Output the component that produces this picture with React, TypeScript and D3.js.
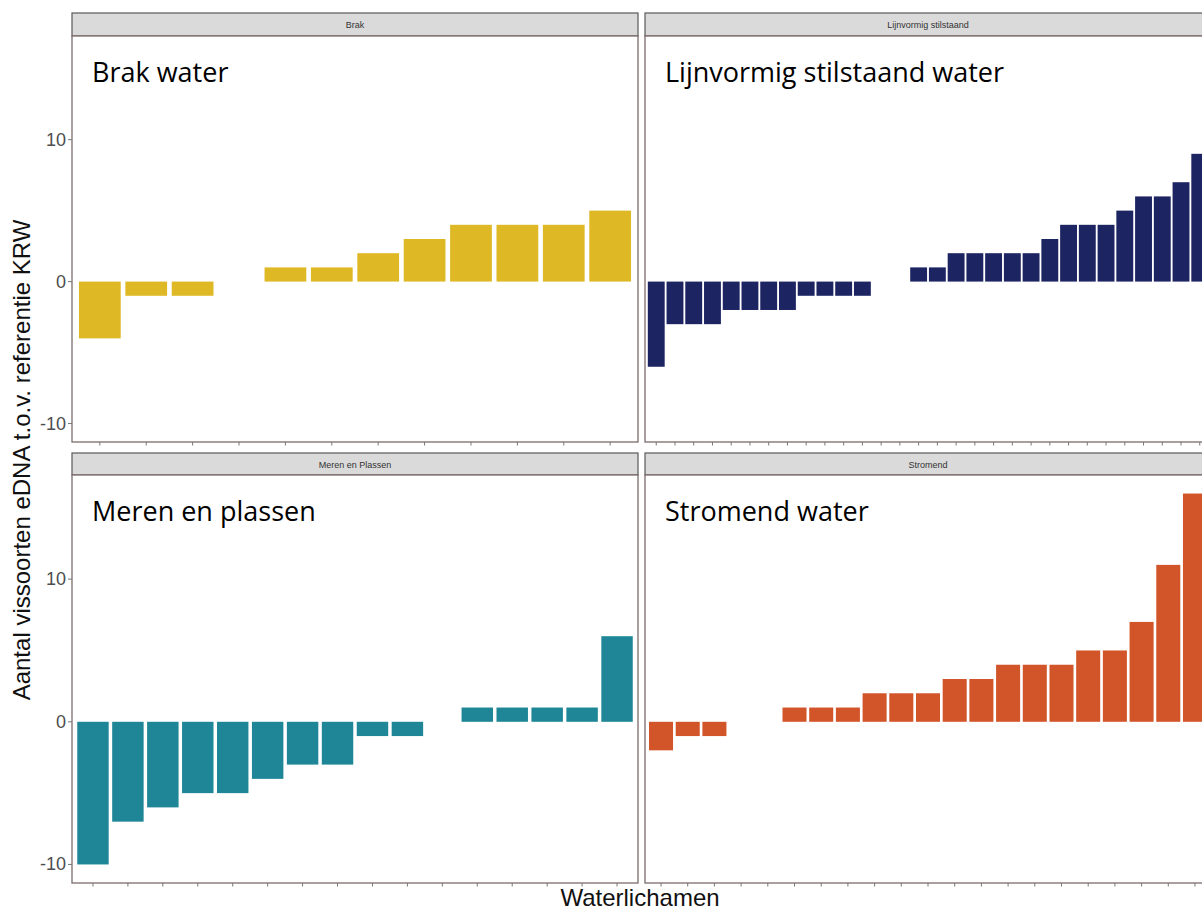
import React from "react";
import * as d3 from "d3";

// Difference in number of fish species (eDNA vs. KRW reference) per water body, sorted per water type
const brakValues = [-4, -1, -1, 0, 1, 1, 2, 3, 4, 4, 4, 5];
const lijnvormigValues = [-6, -3, -3, -3, -2, -2, -2, -2, -1, -1, -1, -1, 0, 0, 1, 1, 2, 2, 2, 2, 2, 3, 4, 4, 4, 5, 6, 6, 7, 9];
const merenValues = [-10, -7, -6, -5, -5, -4, -3, -3, -1, -1, 0, 1, 1, 1, 1, 6];
const stromendValues = [-2, -1, -1, 0, 0, 1, 1, 1, 2, 2, 2, 3, 3, 4, 4, 4, 5, 5, 7, 11, 16];

const stripLabels = ["Brak", "Lijnvormig stilstaand", "Meren en Plassen", "Stromend"];
const panelTitles = ["Brak water", "Lijnvormig stilstaand water", "Meren en plassen", "Stromend water"];
const panelColors = ["#DFB826", "#1D2462", "#1E8697", "#D2552A"];
const yTicks = [-10, 0, 10];

const yLabel = "Aantal vissoorten eDNA t.o.v. referentie KRW";
const xLabel = "Waterlichamen";

const W = 1202;
const H = 912;

const cols = [
  { x0: 72, x1: 638 },
  { x0: 645, x1: 1211 },
];
const rows = [
  { strip0: 13, strip1: 36, y1: 442 },
  { strip0: 453, strip1: 475, y1: 883 },
];

const series = [brakValues, lijnvormigValues, merenValues, stromendValues];

// shared y range with ggplot-style 5% expansion
const allValues = series.flat();
const yMin = d3.min(allValues) as number;
const yMax = d3.max(allValues) as number;
const yPad = (yMax - yMin) * 0.05;

export default function App() {
  return (
    <div style={{ position: "absolute", left: 0, top: 0, width: W, height: H, background: "#fff" }}>
      <svg width={W} height={H} style={{ display: "block" }} fontFamily="'Liberation Sans', Arial, sans-serif">
        <rect x={0} y={0} width={W} height={H} fill="#fff" />
        {series.map((vals, p) => {
          const col = cols[p % 2];
          const row = rows[Math.floor(p / 2)];
          const cats = vals.map((_, i) => `${stripLabels[p]}-${i + 1}`);
          const x = d3
            .scaleBand<string>()
            .domain(cats)
            .range([col.x0, col.x1])
            .paddingInner(0.1)
            .paddingOuter(0.15);
          const y = d3
            .scaleLinear()
            .domain([yMin - yPad, yMax + yPad])
            .range([row.y1, row.strip1]);
          const isLeft = p % 2 === 0;
          return (
            <g key={p}>
              {/* strip */}
              <rect
                x={col.x0}
                y={row.strip0}
                width={col.x1 - col.x0}
                height={row.strip1 - row.strip0}
                fill="#DADADA"
                stroke="#5a5a5a"
                strokeWidth={1.2}
              />
              <text
                x={(col.x0 + col.x1) / 2}
                y={(row.strip0 + row.strip1) / 2 + 3.5}
                textAnchor="middle"
                fontSize={9}
                fill="#333"
              >
                {stripLabels[p]}
              </text>
              {/* panel background */}
              <rect
                x={col.x0}
                y={row.strip1}
                width={col.x1 - col.x0}
                height={row.y1 - row.strip1}
                fill="#fff"
              />
              {/* bars */}
              {vals.map((v, i) =>
                v === 0 ? null : (
                  <rect
                    key={i}
                    x={x(cats[i])}
                    y={y(Math.max(0, v))}
                    width={x.bandwidth()}
                    height={Math.abs(y(v) - y(0))}
                    fill={panelColors[p]}
                  />
                )
              )}
              {/* panel border */}
              <rect
                x={col.x0}
                y={row.strip1}
                width={col.x1 - col.x0}
                height={row.y1 - row.strip1}
                fill="none"
                stroke="#7d6c6c"
                strokeWidth={1.3}
              />
              {/* x ticks */}
              {cats.map((c) => {
                const cx = (x(c) as number) + x.bandwidth() / 2;
                return (
                  <line key={c} x1={cx} x2={cx} y1={row.y1} y2={row.y1 + 3.5} stroke="#777" strokeWidth={1} />
                );
              })}
              {/* y axis on left column */}
              {isLeft &&
                yTicks.map((t) => (
                  <g key={t}>
                    <line x1={col.x0 - 4} x2={col.x0} y1={y(t)} y2={y(t)} stroke="#777" strokeWidth={1} />
                    <text
                      x={col.x0 - 6}
                      y={y(t) + 6}
                      textAnchor="end"
                      fontSize={18}
                      fill="#4d4d4d"
                    >
                      {t}
                    </text>
                  </g>
                ))}
              {/* panel title */}
              <text
                x={col.x0 + 20}
                y={row.strip1 + 46}
                fontSize={27}
                fill="#000"
                fontFamily="'Open Sans', 'Noto Sans', sans-serif"
              >
                {panelTitles[p]}
              </text>
            </g>
          );
        })}
        <text
          transform={`translate(30, 460) rotate(-90)`}
          textAnchor="middle"
          fontSize={24}
          fill="#111"
        >
          {yLabel}
        </text>
        <text x={640} y={906} textAnchor="middle" fontSize={24} fill="#111">
          {xLabel}
        </text>
      </svg>
    </div>
  );
}
